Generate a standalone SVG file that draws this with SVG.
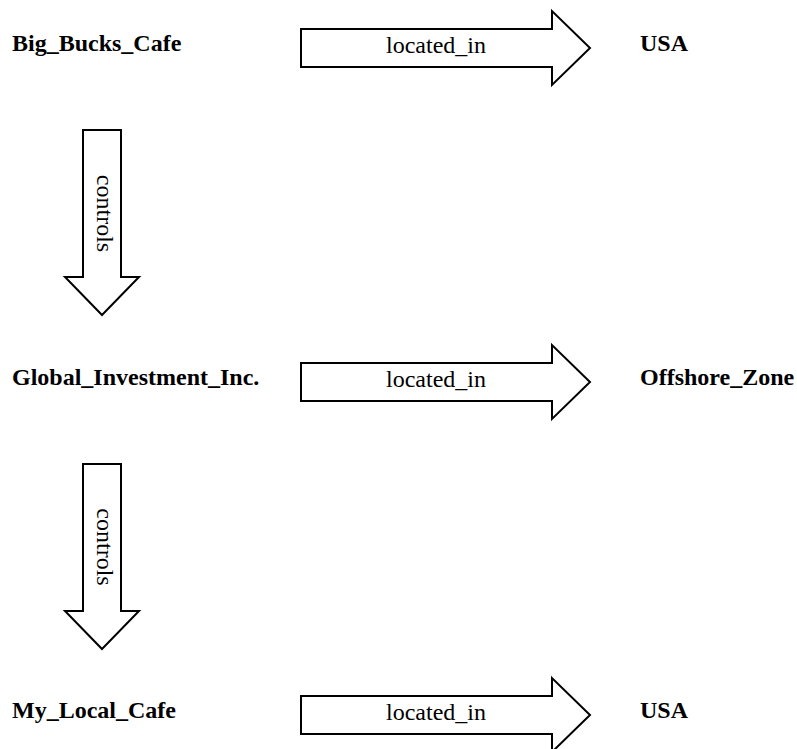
<svg xmlns="http://www.w3.org/2000/svg" width="797" height="749" viewBox="0 0 797 749">
  <style>
    .node { font-family: "Liberation Serif", "Times New Roman", serif; font-size: 24px; font-weight: bold; fill: #000; }
    .label { font-family: "Liberation Serif", "Times New Roman", serif; font-size: 24px; fill: #000; text-anchor: middle; }
    .arrow { fill: #fff; stroke: #000; stroke-width: 2; stroke-linejoin: miter; }
  </style>
  <defs>
    <!-- block arrow pointing right, origin at shaft centre-left -->
    <polygon id="harrow" points="0,-19 251,-19 251,-37 289,0 251,37 251,19 0,19"/>
    <!-- block arrow pointing down, origin at shaft top-centre -->
    <polygon id="varrow" points="-19,0 19,0 19,147 37,147 0,185 -37,147 -19,147"/>
  </defs>
  <rect width="797" height="749" fill="#fff"/>

  <g id="connectors">
    <g id="e-bigbucks-usa">
      <use href="#harrow" class="arrow" x="301" y="48"/>
      <text class="label" x="436" y="53">located_in</text>
    </g>
    <g id="e-bigbucks-global">
      <use href="#varrow" class="arrow" x="102" y="130"/>
      <text class="label" transform="translate(97,213.5) rotate(90)">controls</text>
    </g>
    <g id="e-global-offshore">
      <use href="#harrow" class="arrow" x="301" y="382"/>
      <text class="label" x="436" y="387">located_in</text>
    </g>
    <g id="e-global-mylocal">
      <use href="#varrow" class="arrow" x="102" y="464"/>
      <text class="label" transform="translate(97,547) rotate(90)">controls</text>
    </g>
    <g id="e-mylocal-usa">
      <use href="#harrow" class="arrow" x="301" y="715"/>
      <text class="label" x="436" y="720">located_in</text>
    </g>
  </g>

  <g id="n-bigbucks"><text class="node" x="12" y="51">Big_Bucks_Cafe</text></g>
  <g id="n-usa-1"><text class="node" x="640" y="51">USA</text></g>
  <g id="n-global"><text class="node" x="12" y="385">Global_Investment_Inc.</text></g>
  <g id="n-offshore"><text class="node" x="640" y="385">Offshore_Zone</text></g>
  <g id="n-mylocal"><text class="node" x="12" y="718">My_Local_Cafe</text></g>
  <g id="n-usa-2"><text class="node" x="640" y="718">USA</text></g>
</svg>
